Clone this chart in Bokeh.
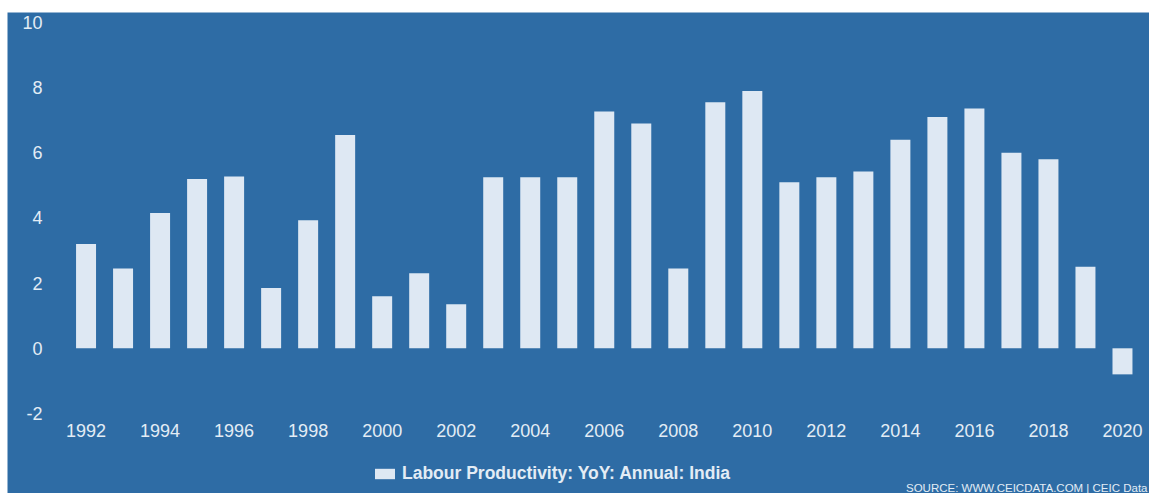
from bokeh.plotting import figure
from bokeh.models import (Range1d, FixedTicker, Legend, LegendItem, Label, ColumnDataSource,
                          PrintfTickFormatter, Spacer)
from bokeh.layouts import column, row
from bokeh.embed import file_html
from bokeh.resources import INLINE

years = list(range(1992, 2021))
values = [3.2, 2.45, 4.15, 5.2, 5.27, 1.85, 3.93, 6.55, 1.6, 2.3, 1.35,
          5.25, 5.25, 5.25, 7.27, 6.9, 2.45, 7.55, 7.9, 5.1, 5.25, 5.43,
          6.4, 7.1, 7.36, 6.0, 5.8, 2.5, -0.8]
x_ticks = list(range(1992, 2021, 2))
y_ticks = [-2, 0, 2, 4, 6, 8, 10]
series_name = "Labour Productivity: YoY: Annual: India"
source_text = "SOURCE: WWW.CEICDATA.COM | CEIC Data"

BG = "#2e6ca5"
BAR = "#dee8f3"
TXT = "#e3ecf5"
FONT = "Liberation Sans"

src = ColumnDataSource(data=dict(year=years, value=values))

p = figure(width=1142, height=481, output_backend="svg", toolbar_location=None,
           x_range=Range1d(1989.878, 2020.730), y_range=Range1d(-4.457, 10.307),
           min_border_left=0, min_border_right=0, min_border_top=0, min_border_bottom=0)
p.background_fill_color = BG
p.border_fill_color = BG
p.outline_line_color = None
p.xgrid.visible = False
p.ygrid.visible = False

r = p.vbar(x="year", top="value", bottom=0, width=0.54, source=src,
           fill_color=BAR, line_color=None)

for ax, ticks in ((p.xaxis, x_ticks), (p.yaxis, y_ticks)):
    ax.ticker = FixedTicker(ticks=ticks)
    ax.formatter = PrintfTickFormatter(format="%d")
    ax.axis_line_color = None
    ax.major_tick_line_color = None
    ax.minor_tick_line_color = None
    ax.major_tick_out = 0
    ax.major_tick_in = 0
    ax.minor_tick_out = 0
    ax.major_label_text_color = TXT
    ax.major_label_text_font = FONT
    ax.major_label_text_font_size = "18px"
p.xaxis.major_label_standoff = 11
p.yaxis.major_label_standoff = 12
p.xaxis.fixed_location = -2
p.yaxis.fixed_location = 1991.149

legend = Legend(items=[LegendItem(label=series_name, renderers=[r])],
                location=(365, 9), orientation="horizontal",
                background_fill_alpha=0, border_line_color=None,
                label_text_color=TXT, label_text_font=FONT, label_text_font_style="bold",
                label_text_font_size="17.5px", glyph_width=25, glyph_height=13,
                label_standoff=5, padding=0, margin=0, spacing=0)
p.add_layout(legend, "center")

lbl = Label(x=1140, y=0, x_units="screen", y_units="screen", text=source_text,
            text_color=TXT, text_font=FONT, text_font_size="11.5px",
            text_align="right", text_baseline="bottom")
p.add_layout(lbl)

layout = column(Spacer(width=1149, height=12),
                row(Spacer(width=7, height=481), p, spacing=0),
                spacing=0)
open("out.html", "w").write(file_html(layout, INLINE))
